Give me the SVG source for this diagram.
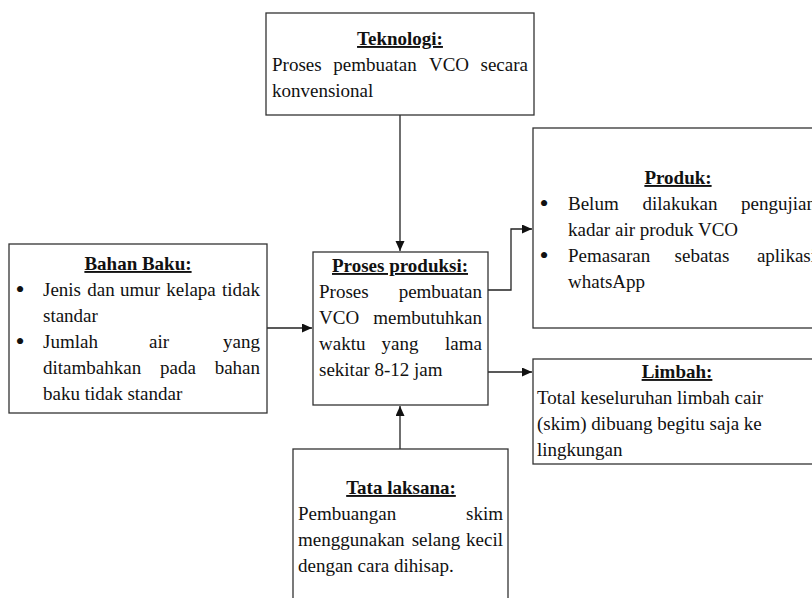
<svg xmlns="http://www.w3.org/2000/svg" width="812" height="598" viewBox="0 0 812 598">
<style>
.box{fill:#fff;stroke:#333;stroke-width:1.3}
.t{font-family:"Liberation Serif","Times New Roman",serif;font-size:19px;fill:#111}
.h{font-weight:bold;text-anchor:middle;text-decoration:underline}
.m{text-anchor:middle}
.e{text-anchor:end}
.b{font-family:"Liberation Serif","Times New Roman",serif;font-size:26px;fill:#111;text-anchor:middle}
.c{fill:none;stroke:#222;stroke-width:1.3}
</style>
<defs>
<marker id="ah" markerUnits="userSpaceOnUse" markerWidth="11" markerHeight="10" refX="10" refY="4.5" orient="auto">
<path d="M0,0 L10,4.5 L0,9 z" fill="#111"/>
</marker>
</defs>
<rect width="812" height="598" fill="#fff"/>
<g id="connectors">
<path class="c" d="M400,115 V251" marker-end="url(#ah)"/>
<path class="c" d="M267,328 H312" marker-end="url(#ah)"/>
<path class="c" d="M488,290 H511 V229 H532" marker-end="url(#ah)"/>
<path class="c" d="M488,372 H532" marker-end="url(#ah)"/>
<path class="c" d="M400,449 V406" marker-end="url(#ah)"/>
</g>
<g id="teknologi">
<rect class="box" x="266" y="13" width="268" height="102"/>
<text class="t h" x="400" y="45">Teknologi:</text>
<text class="t" x="272" y="71">Proses</text>
<text class="t m" x="375" y="71">pembuatan</text>
<text class="t m" x="449" y="71">VCO</text>
<text class="t e" x="528" y="71">secara</text>
<text class="t" x="272" y="97">konvensional</text>
</g>
<g id="bahan-baku">
<rect class="box" x="9" y="244" width="258" height="169"/>
<text class="t h" x="138" y="270">Bahan Baku:</text>
<text class="b" x="20" y="298">•</text>
<text class="t" x="43" y="296">Jenis</text>
<text class="t m" x="101" y="296">dan</text>
<text class="t m" x="140" y="296">umur</text>
<text class="t m" x="191" y="296">kelapa</text>
<text class="t e" x="260" y="296">tidak</text>
<text class="t" x="43" y="322">standar</text>
<text class="b" x="20" y="350">•</text>
<text class="t" x="43" y="348">Jumlah</text>
<text class="t m" x="159" y="348">air</text>
<text class="t e" x="260" y="348">yang</text>
<text class="t" x="43" y="374">ditambahkan</text>
<text class="t m" x="178" y="374">pada</text>
<text class="t e" x="260" y="374">bahan</text>
<text class="t" x="43" y="400">baku tidak standar</text>
</g>
<g id="proses-produksi">
<rect class="box" x="313" y="252" width="175" height="153"/>
<text class="t h" x="400" y="272">Proses produksi:</text>
<text class="t" x="319" y="298">Proses</text>
<text class="t e" x="482" y="298">pembuatan</text>
<text class="t" x="319" y="324">VCO</text>
<text class="t e" x="482" y="324">membutuhkan</text>
<text class="t" x="319" y="350">waktu</text>
<text class="t m" x="400" y="350">yang</text>
<text class="t e" x="482" y="350">lama</text>
<text class="t" x="319" y="376">sekitar 8-12 jam</text>
</g>
<g id="produk">
<rect class="box" x="533" y="128" width="300" height="200"/>
<text class="t h" x="678" y="184">Produk:</text>
<text class="b" x="544" y="212">•</text>
<text class="t" x="568" y="210">Belum</text>
<text class="t m" x="680" y="210">dilakukan</text>
<text class="t e" x="816" y="210">pengujian</text>
<text class="t" x="568" y="236">kadar air produk VCO</text>
<text class="b" x="544" y="264">•</text>
<text class="t" x="568" y="262">Pemasaran</text>
<text class="t m" x="702" y="262">sebatas</text>
<text class="t e" x="816" y="262">aplikasi</text>
<text class="t" x="568" y="288">whatsApp</text>
</g>
<g id="limbah">
<rect class="box" x="533" y="359" width="300" height="105"/>
<text class="t h" x="677" y="378">Limbah:</text>
<text class="t" x="537" y="404">Total keseluruhan limbah cair</text>
<text class="t" x="537" y="430">(skim) dibuang begitu saja ke</text>
<text class="t" x="537" y="456">lingkungan</text>
</g>
<g id="tata-laksana">
<rect class="box" x="293" y="449" width="215" height="200"/>
<text class="t h" x="401" y="494">Tata laksana:</text>
<text class="t" x="298" y="520">Pembuangan</text>
<text class="t e" x="503" y="520">skim</text>
<text class="t" x="298" y="546">menggunakan</text>
<text class="t m" x="436" y="546">selang</text>
<text class="t e" x="503" y="546">kecil</text>
<text class="t" x="298" y="572">dengan cara dihisap.</text>
</g>
</svg>
